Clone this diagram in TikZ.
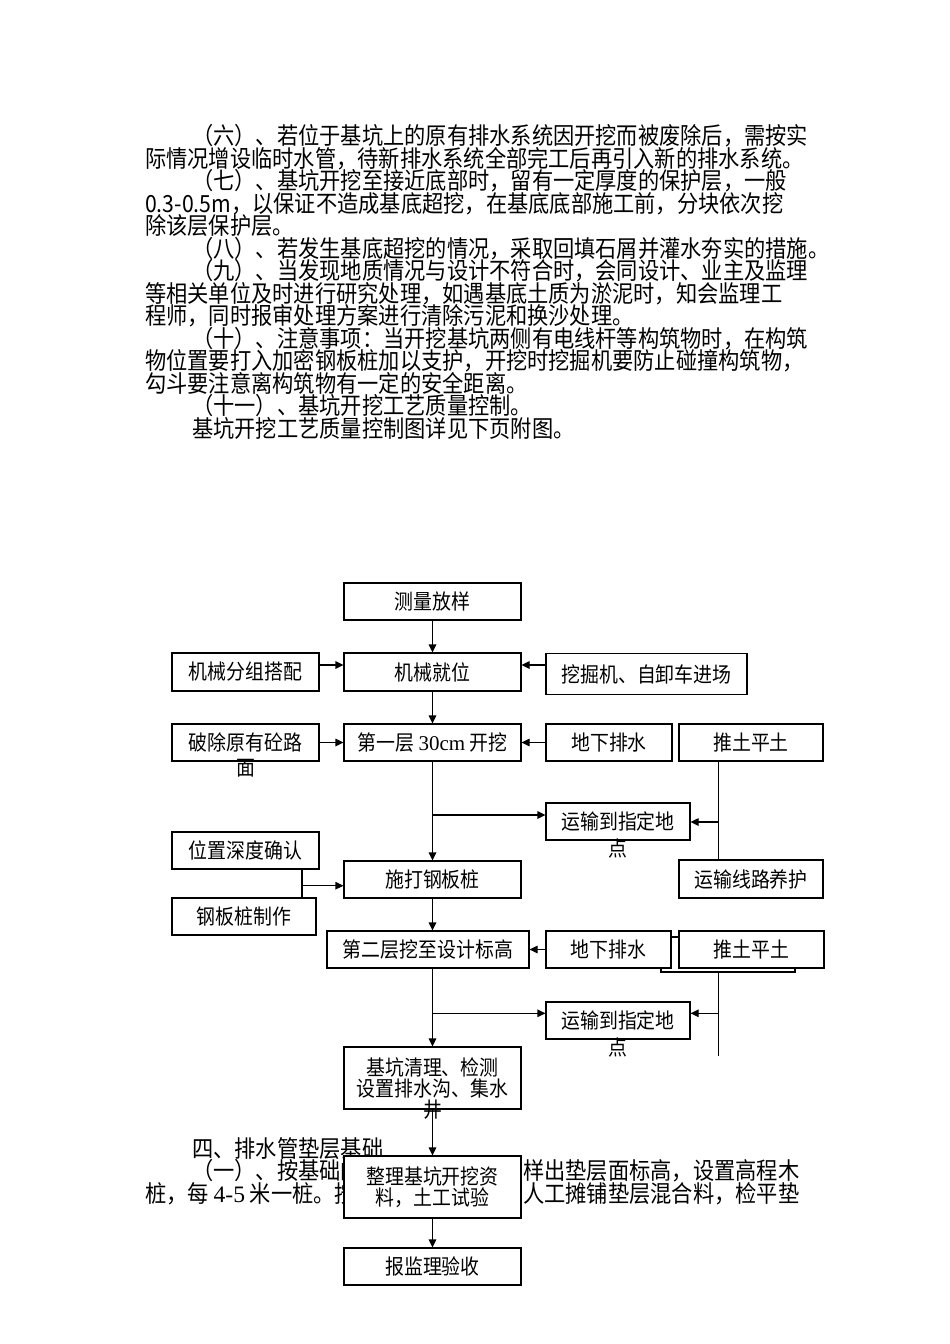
\documentclass[tikz,border=0pt]{standalone}
\usepackage{fontspec}
\setmainfont{Noto Sans CJK SC}
\newfontfamily\songfont{Noto Sans CJK SC}[FakeStretch=0.9]
\newfontfamily\latinfont{Liberation Serif}
\usetikzlibrary{arrows.meta}
\tikzset{>={Triangle[length=8pt,width=7.5pt]}}
\tikzset{
  flowbox/.style={draw, line width=1.1pt, fill=white, inner sep=0pt, align=center,
    font={\songfont\fontsize{21}{19}\selectfont}},
  spill/.style={inner sep=0pt, font={\songfont\fontsize{21}{19}\selectfont}},
  bodyline/.style={anchor=west, inner sep=0pt, font={\songfont\fontsize{23.6}{24}\selectfont}},
  link/.style={line width=1.1pt}
}

\begin{document}
\begin{tikzpicture}[x=1pt, y=-1pt]
    \fill[white] (0,0) rectangle (950,1344);
    \useasboundingbox (0,0) rectangle (950,1344);

    %text above the chart
    \node[bodyline] (p1) at (192,136) {（六）、若位于基坑上的原有排水系统因开挖而被废除后，需按实};
    \node[bodyline] (p2) at (145,158.5) {际情况增设临时水管，待新排水系统全部完工后再引入新的排水系统。};
    \node[bodyline] (p3) at (192,181) {（七）、基坑开挖至接近底部时，留有一定厚度的保护层，一般};
    \node[bodyline] (p4) at (145,203.5) {0.3-0.5m，以保证不造成基底超挖，在基底底部施工前，分块依次挖};
    \node[bodyline] (p5) at (145,226) {除该层保护层。};
    \node[bodyline] (p6) at (192,248.5) {（八）、若发生基底超挖的情况，采取回填石屑并灌水夯实的措施。};
    \node[bodyline] (p7) at (192,271) {（九）、当发现地质情况与设计不符合时，会同设计、业主及监理};
    \node[bodyline] (p8) at (145,293.5) {等相关单位及时进行研究处理，如遇基底土质为淤泥时，知会监理工};
    \node[bodyline] (p9) at (145,316) {程师，同时报审处理方案进行清除污泥和换沙处理。};
    \node[bodyline] (p10) at (192,338.5) {（十）、注意事项：当开挖基坑两侧有电线杆等构筑物时，在构筑};
    \node[bodyline] (p11) at (145,361) {物位置要打入加密钢板桩加以支护，开挖时挖掘机要防止碰撞构筑物，};
    \node[bodyline] (p12) at (145,383.5) {勾斗要注意离构筑物有一定的安全距离。};
    \node[bodyline] (p13) at (192,406) {（十一）、基坑开挖工艺质量控制。};
    \node[bodyline] (p14) at (192,428.5) {基坑开挖工艺质量控制图详见下页附图。};

    %text under the chart
    \node[bodyline] (q1) at (192,1149) {四、排水管垫层基础};
    \node[bodyline] (q2) at (192,1171) {（一）、按基础的};
    \node[bodyline] (q3) at (523,1171) {样出垫层面标高，设置高程木};
    \node[bodyline] (q4) at (145,1194) {桩，每 {\latinfont 4-5} 米一桩。按};
    \node[bodyline] (q5) at (523,1194) {人工摊铺垫层混合料，检平垫};

    %top row
    \node[flowbox, minimum width=177pt, minimum height=37pt] (celiang) at (432.5,601.5) {测量放样};
    \node[flowbox, minimum width=147pt, minimum height=38pt] (jxfz) at (245.5,672) {机械分组搭配};
    \node[flowbox, minimum width=177pt, minimum height=38pt] (jxjw) at (432.5,672) {机械就位};
    \node[flowbox, minimum width=201pt, minimum height=41pt] (wjj) at (646.5,674) {挖掘机、自卸车进场};

    %first layer
    \node[flowbox, minimum width=147pt, minimum height=37pt] (pcyl) at (245.5,742.5) {破除原有砼路};
    \node[spill] (pcylb) at (245.5,768) {面};
    \node[flowbox, minimum width=177pt, minimum height=37pt] (dyc) at (432.5,742.5) {第一层 {\latinfont 30cm} 开挖};
    \node[flowbox, minimum width=126pt, minimum height=37pt] (dxps1) at (609,742.5) {地下排水};
    \node[flowbox, minimum width=144pt, minimum height=37pt] (ttpt1) at (751,742.5) {推土平土};
    \node[flowbox, minimum width=144pt, minimum height=37pt] (ysdd1) at (618,821.5) {运输到指定地};
    \node[spill] (ysdd1b) at (618,848) {点};

    %steel piles
    \node[flowbox, minimum width=147pt, minimum height=37pt] (wzsd) at (245.5,850.5) {位置深度确认};
    \node[flowbox, minimum width=177pt, minimum height=37pt] (sdgb) at (432.5,879.5) {施打钢板桩};
    \node[flowbox, minimum width=144pt, minimum height=38pt] (ysxl) at (751,879) {运输线路养护};
    \node[flowbox, minimum width=144pt, minimum height=37pt] (gbzz) at (244,916.5) {钢板桩制作};

    %second layer
    \node[flowbox, minimum width=134pt, minimum height=35pt] (ttptbk) at (728,954.5) {};
    \node[flowbox, minimum width=202pt, minimum height=37pt] (dec) at (428,949.5) {第二层挖至设计标高};
    \node[flowbox, minimum width=125pt, minimum height=37pt] (dxps2) at (608.5,949.5) {地下排水};
    \node[flowbox, minimum width=145pt, minimum height=37pt] (ttpt2) at (751.5,949.5) {推土平土};
    \node[flowbox, minimum width=144pt, minimum height=37pt] (ysdd2) at (618,1020.5) {运输到指定地};
    \node[spill] (ysdd2b) at (618,1047) {点};

    %bottom
    \node[flowbox, minimum width=177pt, minimum height=62pt] (jkql) at (432.5,1078) {基坑清理、检测\\设置排水沟、集水};
    \node[spill] (jkqlb) at (432.5,1110) {井};
    \node[flowbox, minimum width=177pt, minimum height=62pt] (zljk) at (432.5,1187) {整理基坑开挖资\\料，土工试验};
    \node[flowbox, minimum width=177pt, minimum height=37pt] (bjl) at (432.5,1266.5) {报监理验收};

    %joints
    \coordinate (br1) at (432.5,815);
    \coordinate (r1) at (718.5,822);
    \coordinate (j1) at (302,885.7);
    \coordinate (br2) at (432.5,1013.3);
    \coordinate (r2) at (718.5,1013.3);
    \coordinate (r2end) at (718.5,1055.7);

    %arrows
    \draw[link, ->] (celiang) -- (jxjw);
    \draw[link, ->] ([yshift=7pt]jxfz.east) -- ([yshift=7pt]jxjw.west);
    \draw[link, ->] ([yshift=9pt]wjj.west) -- ([yshift=7pt]jxjw.east);
    \draw[link, ->] (jxjw) -- (dyc);
    \draw[link, ->] (pcyl) -- (dyc);
    \draw[link, ->] (dxps1) -- (dyc);
    \draw[link, ->] (dyc) -- (sdgb);
    \draw[link, ->] (br1) -- (br1 -| ysdd1.west);
    \draw[link] (r1 |- ttpt1.south) -- (r1 |- ysxl.north);
    \draw[link, ->] (r1) -- (r1 -| ysdd1.east);
    \draw[link] (j1 |- wzsd.south) -- (j1 |- gbzz.north);
    \draw[link, ->] (j1) -- (j1 -| sdgb.west);
    \draw[link, ->] (sdgb.south) -- (sdgb.south |- dec.north);
    \draw[link, ->] (dxps2) -- (dec);
    \draw[link, ->] (jkql.north |- dec.south) -- (jkql.north);
    \draw[link, ->] (br2) -- (br2 -| ysdd2.west);
    \draw[link] (r2 |- ttptbk.south) -- (r2end);
    \draw[link, ->] (r2) -- (r2 -| ysdd2.east);
    \draw[link, ->] (jkql) -- (zljk);
    \draw[link, ->] (zljk) -- (bjl);
\end{tikzpicture}
\end{document}
